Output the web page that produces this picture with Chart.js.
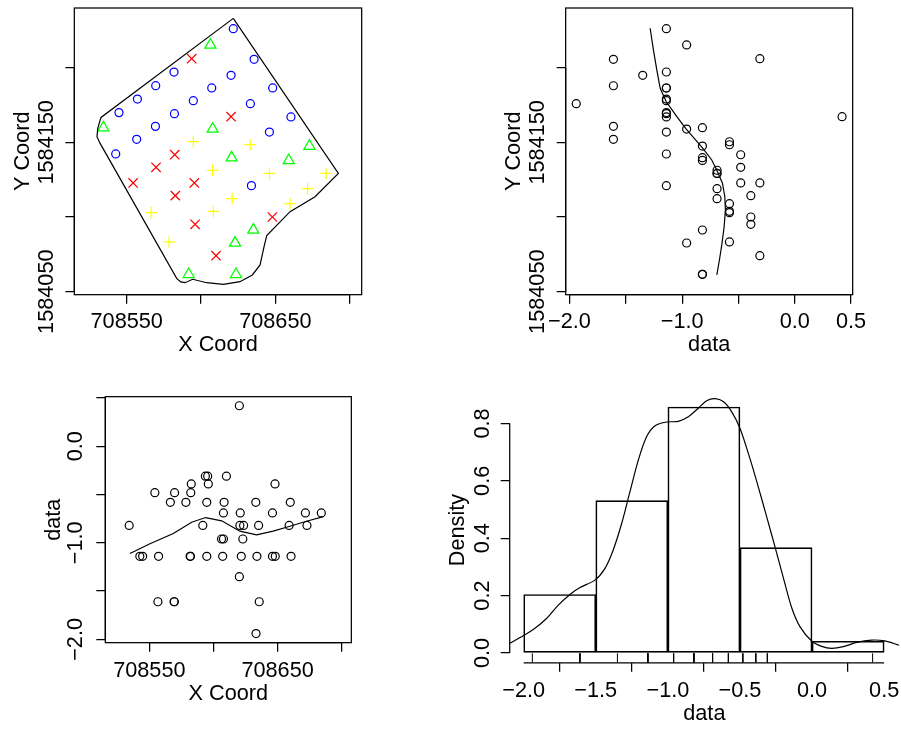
<!DOCTYPE html>
<html>
<head>
<meta charset="utf-8">
<script src="https://cdn.jsdelivr.net/npm/chart.js@4"></script>
<style>
  html, body { margin: 0; padding: 0; background: #fff; }
  canvas { position: absolute; }
</style>
</head>
<body>
<canvas id="coordPlot" width="450" height="365" style="left:0;top:0"></canvas>
<canvas id="dataYPlot" width="441" height="365" style="left:460px;top:0"></canvas>
<canvas id="dataXPlot" width="450" height="354" style="left:0;top:375px"></canvas>
<canvas id="histPlot" width="461" height="354" style="left:440px;top:375px"></canvas>
<script>
// === data ===
const coordX = [708621.7, 708635.7, 708581.8, 708620.2, 708569.5, 708607.2, 708648.2, 708557.2, 708594.8, 708633.2, 708544.8, 708582.1, 708660.5, 708569.3, 708646.0, 708556.7, 708542.6, 708633.9,
  708593.7, 708620.2, 708582.3, 708569.7, 708554.3, 708595.5, 708582.7, 708648.0, 708596.0, 708610.1,
  708606.3, 708534.3, 708607.8, 708672.9, 708620.6, 708659.0, 708635.2, 708622.9, 708591.7, 708623.5,
  708594.8, 708633.0, 708607.8, 708646.0, 708684.1, 708671.7, 708620.9, 708659.9, 708608.3, 708566.4, 708578.5];
const coordY = [1584226.1, 1584205.6, 1584197.1, 1584194.9, 1584187.9, 1584186.4, 1584186.4, 1584179.0, 1584177.9, 1584175.9, 1584169.9, 1584169.2, 1584167.0, 1584160.7, 1584156.9, 1584152.0, 1584142.2, 1584121.0,
  1584206.0, 1584167.2, 1584141.7, 1584133.3, 1584122.8, 1584122.8, 1584114.3, 1584100.0, 1584095.1, 1584074.1,
  1584215.2, 1584159.8, 1584158.9, 1584147.5, 1584139.7, 1584137.9, 1584091.3, 1584082.6, 1584061.6, 1584061.6,
  1584150.4, 1584148.4, 1584131.3, 1584129.2, 1584129.2, 1584119.0, 1584112.3, 1584108.9, 1584103.8, 1584102.9, 1584083.3];
const dataValues = [-1.14, -1.61, -1.14, -1.35, -1.61, -1.14, -1.14, -1.14, -1.14, -1.94, -1.14, -1.14, -1.14, -1.61, -1.14, -1.61, -1.14, -1.14,
  -0.31, 0.42, -0.48, -0.48, -0.48, -0.31, -0.39, -0.39, -0.39, -0.31,
  -0.96, -0.82, -0.96, -0.82, -0.82, -0.82, -0.82, -0.96, -0.82, -0.82,
  -0.58, -0.58, -0.69, -0.69, -0.69, -0.69, -0.69, -0.58, -0.58, -0.58, -0.58];
const quartileBreaks = [-1, -0.75, -0.5];

const borderX = [708621.7, 708692.4, 708676.7, 708659.9, 708644.2, 708642.4, 708639.7, 708634.5, 708626.2, 708615.0, 708603.8, 708594.4, 708589.2, 708586.3, 708583.6, 708532.1, 708530.0, 708530.5, 708532.7, 708621.7];
const borderY = [1584233.0, 1584129.2, 1584113.6, 1584103.6, 1584087.5, 1584080.1, 1584067.9, 1584061.2, 1584056.7, 1584054.9, 1584056.0, 1584058.3, 1584056.0, 1584056.5, 1584058.9, 1584149.3, 1584153.8, 1584159.4, 1584166.7, 1584233.0];

const smoothYData = [-1.284, -1.255, -1.225, -1.195, -1.142, -1.047, -0.965, -0.816, -0.737, -0.687, -0.642, -0.621, -0.616, -0.627, -0.648, -0.669, -0.692];
const smoothYCoord = [1584226.4, 1584211.9, 1584198.5, 1584186.2, 1584177.3, 1584167.2, 1584159.0, 1584146.0, 1584138.2, 1584130.4, 1584122.6, 1584113.6, 1584104.7, 1584093.5, 1584081.3, 1584071.2, 1584061.2];

const smoothXCoord = [708534.9, 708550.5, 708568.7, 708583.0, 708593.9, 708606.4, 708620.6, 708633.6, 708646.6, 708659.6, 708672.6, 708685.6];
const smoothXData = [-1.11, -1.01, -0.903, -0.786, -0.738, -0.772, -0.879, -0.917, -0.879, -0.828, -0.776, -0.728];

const histMids = [-1.75, -1.25, -0.75, -0.25, 0.25];
const histDensity = [0.204, 0.531, 0.857, 0.367, 0.041];

const densityX = [-2.097, -2.003, -1.922, -1.84, -1.76, -1.679, -1.61, -1.506, -1.436, -1.379, -1.32, -1.263, -1.205, -1.147, -1.089, -1.008, -0.928, -0.858, -0.789, -0.731, -0.673, -0.616, -0.558, -0.5, -0.431, -0.373, -0.315, -0.257, -0.198, -0.14, -0.084, -0.003, 0.067, 0.136, 0.217, 0.309, 0.413, 0.505, 0.603];
const densityY = [0.034, 0.06, 0.086, 0.121, 0.167, 0.204, 0.228, 0.254, 0.295, 0.359, 0.452, 0.562, 0.672, 0.754, 0.792, 0.805, 0.807, 0.823, 0.853, 0.879, 0.886, 0.876, 0.841, 0.783, 0.678, 0.579, 0.475, 0.37, 0.26, 0.156, 0.092, 0.042, 0.023, 0.016, 0.022, 0.037, 0.045, 0.042, 0.027];

const coordXTicks = [708550, 708600, 708650, 708700];
const coordXLabels = ['708550', '', '708650', ''];
const coordYTicks = [1584050, 1584100, 1584150, 1584200];
const coordYLabels = ['1584050', '', '1584150', ''];
const dataTicks = [-2, -1.5, -1, -0.5, 0, 0.5];
const dataAxisLabels = ['\u22122.0', '', '\u22121.0', '', '0.0', '0.5'];
const dataSideLabels = ['\u22122.0', '', '\u22121.0', '', '0.0', ''];
const histXLabels = ['\u22122.0', '\u22121.5', '\u22121.0', '\u22120.5', '0.0', '0.5'];
const densityTicks = [0, 0.2, 0.4, 0.6, 0.8];
const densityLabels = ['0.0', '0.2', '0.4', '0.6', '0.8'];

// === shared look ===
Chart.defaults.font.family = '"Liberation Sans", Arial, sans-serif';
Chart.defaults.font.size = 21.7;
Chart.defaults.color = '#000';

const LINE = 1.25;
const TICK_LEN = 9;

function pairs(xs, ys) {
  return xs.map((x, i) => ({ x: x, y: ys[i] }));
}

function circles(xs, ys) {
  return {
    data: pairs(xs, ys),
    pointStyle: 'circle', pointRadius: 4,
    borderColor: '#000', backgroundColor: 'transparent', borderWidth: 1.2
  };
}

function curve(xs, ys, tension) {
  return {
    data: pairs(xs, ys), showLine: true, pointRadius: 0,
    borderColor: '#000', backgroundColor: 'transparent', borderWidth: 1.2, tension: tension || 0
  };
}

// R style scale: fixed size, own tick list, line only from first to last tick
function scale(o) {
  const horizontal = o.position === 'bottom';
  const cfg = {
    type: 'linear', position: o.position, min: o.min, max: o.max, offset: false,
    afterBuildTicks: s => { s.ticks = o.ticks.map(v => ({ value: v })); },
    afterFit: s => {
      if (horizontal) s.height = o.size; else s.width = o.size;
      // labels may hang past the plot, the plot must not shrink for them
      s.paddingLeft = s.paddingRight = s.paddingTop = s.paddingBottom = 0;
    },
    border: { display: false },
    grid: { drawOnChartArea: false, drawTicks: true, tickLength: TICK_LEN, color: '#000', lineWidth: LINE },
    ticks: {
      autoSkip: false, padding: o.pad, color: '#000',
      callback: (v, i) => o.labels[i]
    },
    title: { display: true, text: o.title, color: '#000', padding: o.titlePad }
  };
  if (!horizontal) {
    cfg.ticks.minRotation = 90;
    cfg.ticks.maxRotation = 90;
    cfg.ticks.crossAlign = 'center';
  }
  return cfg;
}

const axisLines = {
  id: 'axisLines',
  afterDraw(chart) {
    const c = chart.ctx;
    c.save();
    c.strokeStyle = '#000';
    c.lineWidth = LINE;
    Object.values(chart.scales).forEach(s => {
      const a = s.getPixelForValue(s.ticks[0].value);
      const b = s.getPixelForValue(s.ticks[s.ticks.length - 1].value);
      c.beginPath();
      if (s.isHorizontal()) { c.moveTo(a, s.top); c.lineTo(b, s.top); }
      else { c.moveTo(s.right, a); c.lineTo(s.right, b); }
      c.stroke();
    });
    c.restore();
  }
};

const plotBox = {
  id: 'plotBox',
  afterDraw(chart) {
    const a = chart.chartArea;
    const c = chart.ctx;
    c.save();
    c.strokeStyle = '#000';
    c.lineWidth = LINE;
    c.strokeRect(a.left, a.top, a.right - a.left, a.bottom - a.top);
    c.restore();
  }
};

function baseOptions(top, right, scales) {
  return {
    responsive: false, animation: false, events: [],
    layout: { autoPadding: false, padding: { top: top, right: right, left: 0, bottom: 0 } },
    plugins: { legend: { display: false }, tooltip: { enabled: false } },
    scales: scales
  };
}

const X_COORD_RANGE = [708514.75, 708708.07];
const Y_COORD_RANGE = [1584047.99, 1584239.96];
const DATA_RANGE = [-2.034, 0.514];

// === Coordinates by quartile ===
function quartileSet(lo, hi, color, style, radius) {
  const keep = dataValues.map((v, i) => (v >= lo && v < hi ? i : -1)).filter(i => i >= 0);
  return {
    data: keep.map(i => ({ x: coordX[i], y: coordY[i] })),
    pointStyle: style, pointRadius: radius,
    borderColor: color, backgroundColor: 'transparent', borderWidth: 1.25
  };
}

new Chart(document.getElementById('coordPlot'), {
  type: 'scatter',
  data: {
    datasets: [
      curve(borderX, borderY),
      quartileSet(-Infinity, quartileBreaks[0], '#0000ff', 'circle', 4),
      quartileSet(quartileBreaks[0], quartileBreaks[1], '#00ff00', 'triangle', 6.4),
      quartileSet(quartileBreaks[1], quartileBreaks[2], '#ffff00', 'cross', 5.8),
      quartileSet(quartileBreaks[2], Infinity, '#ff0000', 'crossRot', 6.6)
    ]
  },
  options: baseOptions(8, 88.33, {
    x: scale({ position: 'bottom', min: X_COORD_RANGE[0], max: X_COORD_RANGE[1], ticks: coordXTicks, labels: coordXLabels,
      size: 70.33, pad: 5.6, title: 'X Coord', titlePad: { bottom: 6.5 } }),
    y: scale({ position: 'left', min: Y_COORD_RANGE[0], max: Y_COORD_RANGE[1], ticks: coordYTicks, labels: coordYLabels,
      size: 74.33, pad: -23.7, title: 'Y Coord', titlePad: { top: 10 } })
  }),
  plugins: [axisLines, plotBox]
});

// === Data vs Y ===
new Chart(document.getElementById('dataYPlot'), {
  type: 'scatter',
  data: { datasets: [curve(smoothYData, smoothYCoord), circles(dataValues, coordY)] },
  options: baseOptions(8, 48.33, {
    x: scale({ position: 'bottom', min: DATA_RANGE[0], max: DATA_RANGE[1], ticks: dataTicks, labels: dataAxisLabels,
      size: 70.33, pad: 5.6, title: 'data', titlePad: { bottom: 6.5 } }),
    y: scale({ position: 'left', min: Y_COORD_RANGE[0], max: Y_COORD_RANGE[1], ticks: coordYTicks, labels: coordYLabels,
      size: 105.67, pad: -23.7, title: 'Y Coord', titlePad: { top: 40.7 } })
  }),
  plugins: [axisLines, plotBox]
});

// === X vs Data ===
new Chart(document.getElementById('dataXPlot'), {
  type: 'scatter',
  data: { datasets: [curve(smoothXCoord, smoothXData), circles(coordX, dataValues)] },
  options: baseOptions(21.67, 98.67, {
    x: scale({ position: 'bottom', min: 708515.7, max: 708707.5, ticks: coordXTicks, labels: coordXLabels,
      size: 86.33, pad: 6, title: 'X Coord', titlePad: { bottom: 21.7 } }),
    y: scale({ position: 'left', min: DATA_RANGE[0], max: DATA_RANGE[1], ticks: dataTicks, labels: dataSideLabels,
      size: 105.33, pad: -1.3, title: 'data', titlePad: { top: 41.3 } })
  }),
  plugins: [axisLines, plotBox]
});

// === Histogram + density + rug ===
new Chart(document.getElementById('histPlot'), {
  type: 'bar',
  data: {
    datasets: [
      Object.assign(curve(densityX, densityY, 0.3), { type: 'line' }),
      {
        type: 'scatter',
        data: dataValues.map(v => ({ x: v, y: -0.0175 })),
        pointStyle: 'line', rotation: 90, pointRadius: 4.7,
        borderColor: '#000', borderWidth: 1
      },
      {
        data: pairs(histMids, histDensity),
        backgroundColor: 'transparent', borderColor: '#000', borderWidth: 1,
        borderSkipped: false, barPercentage: 1, categoryPercentage: 1
      }
    ]
  },
  options: baseOptions(22.2, 2, {
    x: scale({ position: 'bottom', min: -2.097, max: 0.603, ticks: dataTicks, labels: histXLabels,
      size: 66.15, pad: 5.7, title: 'data', titlePad: { bottom: 1.7 } }),
    y: scale({ position: 'left', min: -0.0343, max: 0.8913, ticks: densityTicks, labels: densityLabels,
      size: 69.7, pad: 3, title: 'Density', titlePad: { top: 4.7 } })
  }),
  plugins: [axisLines]
});
</script>
</body>
</html>
